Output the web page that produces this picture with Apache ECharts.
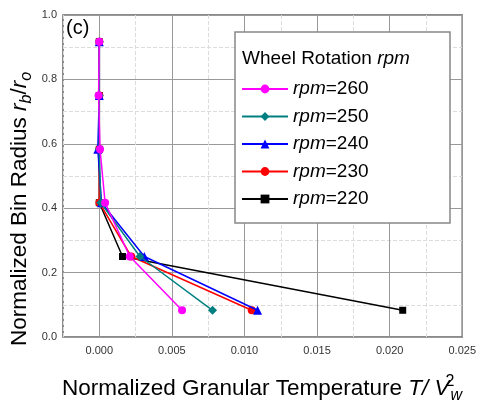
<!DOCTYPE html>
<html><head><meta charset="utf-8">
<script src="https://cdn.jsdelivr.net/npm/echarts@6/dist/echarts.min.js"></script>
<style>html,body{margin:0;padding:0;background:#fff}#c{width:479px;height:403px}</style>
</head><body><div id="c"></div>
<script>
const radius = [0.917, 0.75, 0.583, 0.417, 0.25, 0.083];
const seriesNames = ['rpm=260', 'rpm=250', 'rpm=240', 'rpm=230', 'rpm=220'];
const temp260 = [0.0000, -0.00005, 0.00005, 0.0004, 0.0021, 0.0057];
const temp250 = [0.0000, 0.0000, 0.0000, 0.0001, 0.0028, 0.0078];
const temp240 = [0.0000, 0.0000, -0.0001, 0.00015, 0.0031, 0.0109];
const temp230 = [0.0000, 0.0000, 0.0000, 0.0000, 0.0022, 0.0105];
const temp220 = [0.0000, 0.0000, 0.0000, 0.0000, 0.0016, 0.0209];
const xTicks = ['0.000', '0.005', '0.010', '0.015', '0.020', '0.025'];
const yTicks = ['0.0', '0.2', '0.4', '0.6', '0.8', '1.0'];

const FONT = 'Arial, "Liberation Sans", sans-serif';
const colors = ['#ff00ff', '#008080', '#0000ff', '#ff0000', '#000000'];
const symbols = ['circle', 'diamond', 'triangle', 'circle', 'rect'];
const sizes = [8, 9, 9, 8, 7];
const temps = [temp260, temp250, temp240, temp230, temp220];

const series = [];
for (let k = temps.length - 1; k >= 0; k--) {
  series.push({
    name: seriesNames[k], type: 'line', xAxisIndex: 0,
    data: temps[k].map((t, i) => [t, radius[i]]),
    symbol: symbols[k], symbolSize: sizes[k],
    lineStyle: { color: colors[k], width: 1.5 },
    itemStyle: { color: colors[k] },
    z: 3 + (temps.length - k) * 0.1,
    animation: false
  });
}

const chart = echarts.init(document.getElementById('c'), null, { renderer: 'canvas' });
chart.setOption({
  animation: false,
  backgroundColor: '#fff',
  grid: { left: 63, right: 15, top: 15, bottom: 66, show: true, borderColor: '#666', borderWidth: 1.5, backgroundColor: 'transparent' },
  xAxis: [{
    type: 'value', min: -0.0025, max: 0.025, interval: 0.0025, position: 'bottom',
    axisLine: { show: false }, axisTick: { show: false },
    axisLabel: {
      margin: 8, color: '#333', fontSize: 11, fontFamily: FONT, showMinLabel: true, showMaxLabel: true,
      formatter: v => { const n = Math.round(v / 0.0025); return (n >= 0 && n % 2 === 0) ? xTicks[n / 2] : ''; }
    },
    splitLine: { show: true, lineStyle: { color: ['#dcdcdc', 'rgba(0,0,0,0)'], type: 'dashed', width: 1 } }
  }, {
    type: 'value', min: -0.0025, max: 0.025, interval: 0.0025, position: 'bottom',
    axisLine: { show: false }, axisTick: { show: false }, axisLabel: { show: false },
    splitLine: { show: true, lineStyle: { color: ['rgba(0,0,0,0)', '#999'], width: 1 } }
  }],
  yAxis: {
    type: 'value', min: 0, max: 1, interval: 0.2,
    axisLine: { show: false }, axisTick: { show: false },
    axisLabel: { margin: 6, color: '#333', fontSize: 11, fontFamily: FONT, formatter: v => yTicks[Math.round(v / 0.2)] },
    splitLine: { show: true, lineStyle: { color: '#999', width: 1 } },
    minorTick: { show: false, splitNumber: 2 },
    minorSplitLine: { show: true, lineStyle: { color: '#dcdcdc', type: 'dashed', width: 1 } }
  },
  legend: {
    orient: 'vertical', left: 236, top: 74, z: 6,
    data: seriesNames,
    itemWidth: 46, itemHeight: 11, itemGap: 7.5,
    formatter: name => '{i|rpm}{n|' + name.slice(3) + '}',
    textStyle: {
      fontSize: 19, fontFamily: FONT, color: '#000', lineHeight: 20,
      rich: { i: { fontStyle: 'italic', fontSize: 19, fontFamily: FONT, color: '#000' }, n: { fontSize: 19, fontFamily: FONT, color: '#000' } }
    }
  },
  graphic: [
    { type: 'rect', z: 5, shape: { x: 235, y: 32, width: 215, height: 191 }, style: { fill: '#fff', stroke: '#888', lineWidth: 1.5 } },
    { type: 'text', z: 6, x: 242, y: 59, style: { text: 'Wheel Rotation {i|rpm}', font: '19px ' + FONT, fill: '#000', verticalAlign: 'middle',
      rich: { i: { fontStyle: 'italic', fontSize: 19, fontFamily: FONT, fill: '#000' } } } },
    { type: 'text', z: 6, x: 66, y: 28, style: { text: '(c)', font: '20px ' + FONT, fill: '#000', verticalAlign: 'middle' } },
    { type: 'text', z: 6, x: 20, y: 209, rotation: Math.PI / 2,
      style: { text: 'Normalized Bin Radius {i|r}{s|b}{n|/}{i|r}{s|o}', font: '22.5px ' + FONT, fill: '#000', align: 'center', verticalAlign: 'middle',
        rich: { i: { fontStyle: 'italic', fontSize: 22.5, fontFamily: FONT }, n: { fontSize: 22.5, fontFamily: FONT },
                s: { fontStyle: 'italic', fontSize: 16, fontFamily: FONT, verticalAlign: 'bottom', lineHeight: 30 } } } },
    { type: 'text', z: 6, x: 262, y: 389,
      style: { text: 'Normalized Granular Temperature {i|T/ V}{p|2}{s|w}', font: '22.5px ' + FONT, fill: '#000', align: 'center', verticalAlign: 'middle',
        rich: { i: { fontStyle: 'italic', fontSize: 22.5, fontFamily: FONT },
                p: { fontSize: 16, fontFamily: FONT, verticalAlign: 'top', width: 1, lineHeight: 30 },
                s: { fontStyle: 'italic', fontSize: 16, fontFamily: FONT, verticalAlign: 'bottom', lineHeight: 30 } } } }
  ],
  series: series
});
</script></body></html>
